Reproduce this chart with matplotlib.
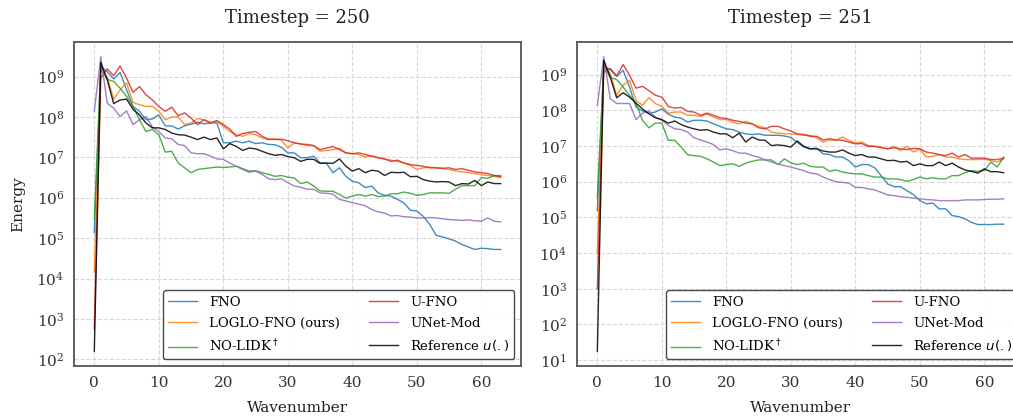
import numpy as np
import matplotlib
matplotlib.use("Agg")
import matplotlib.pyplot as plt

plt.rcParams['font.family'] = 'DejaVu Serif'

wavenumber = np.arange(64)

# log10(energy), timestep 250
fno_250 = [5.14, 9.25, 9.12, 8.94, 9.10, 8.67, 8.26, 8.14, 7.93, 7.95, 8.05, 7.78, 7.78, 7.70, 7.78, 7.82,
           7.87, 7.83, 7.85, 7.85, 7.36, 7.36, 7.40, 7.36, 7.40, 7.34, 7.36, 7.32, 7.31, 7.25, 7.11, 7.11,
           6.99, 6.99, 7.03, 6.86, 6.85, 6.62, 6.74, 6.53, 6.41, 6.37, 6.25, 6.29, 6.12, 6.06, 6.04, 5.96,
           5.87, 5.69, 5.67, 5.54, 5.34, 5.07, 5.03, 4.98, 4.93, 4.84, 4.78, 4.72, 4.75, 4.74, 4.72, 4.72]
loglo_250 = [4.16, 9.15, 9.00, 8.44, 8.67, 8.84, 8.36, 8.30, 8.26, 8.26, 8.14, 7.93, 8.00, 8.00, 7.81, 7.85,
             7.96, 7.93, 7.87, 7.89, 7.77, 7.64, 7.56, 7.52, 7.59, 7.56, 7.48, 7.44, 7.46, 7.42, 7.23, 7.36,
             7.33, 7.29, 7.29, 7.15, 7.17, 7.19, 7.23, 7.11, 7.09, 7.07, 7.01, 7.04, 6.99, 6.96, 6.93, 6.90,
             6.86, 6.80, 6.70, 6.74, 6.76, 6.74, 6.72, 6.70, 6.66, 6.64, 6.62, 6.60, 6.57, 6.55, 6.53, 6.50]
nolidk_250 = [5.46, 9.22, 8.93, 8.88, 8.71, 8.51, 8.26, 7.93, 7.64, 7.69, 7.56, 7.13, 7.15, 6.86, 6.74, 6.62,
              6.70, 6.72, 6.74, 6.76, 6.75, 6.76, 6.78, 6.72, 6.66, 6.67, 6.62, 6.58, 6.53, 6.55, 6.51, 6.49,
              6.35, 6.39, 6.29, 6.17, 6.16, 6.16, 6.08, 5.99, 6.04, 6.08, 6.04, 6.08, 6.03, 6.04, 6.10, 6.10,
              6.14, 6.11, 6.06, 6.08, 6.12, 6.12, 6.12, 6.11, 6.21, 6.30, 6.30, 6.30, 6.50, 6.48, 6.55, 6.55]
ufno_250 = [2.75, 8.96, 9.19, 9.02, 9.26, 8.96, 8.61, 8.75, 8.55, 8.42, 8.26, 8.14, 8.24, 8.03, 8.10, 7.97,
            7.81, 7.93, 7.85, 7.91, 7.81, 7.70, 7.52, 7.59, 7.62, 7.64, 7.52, 7.45, 7.44, 7.45, 7.41, 7.36,
            7.33, 7.32, 7.29, 7.19, 7.23, 7.27, 7.19, 7.11, 7.09, 7.11, 7.07, 7.03, 6.99, 6.96, 6.90, 6.93,
            6.86, 6.82, 6.80, 6.78, 6.74, 6.74, 6.73, 6.74, 6.70, 6.72, 6.68, 6.64, 6.62, 6.60, 6.55, 6.52]
unet_250 = [8.14, 9.49, 8.34, 8.22, 8.01, 8.15, 7.81, 7.93, 8.01, 7.75, 7.64, 7.48, 7.46, 7.32, 7.29, 7.11,
            7.09, 7.09, 7.03, 6.96, 6.95, 6.86, 6.78, 6.70, 6.63, 6.66, 6.58, 6.47, 6.45, 6.47, 6.37, 6.29,
            6.26, 6.21, 6.21, 6.12, 6.11, 6.09, 5.96, 5.92, 5.88, 5.84, 5.80, 5.71, 5.65, 5.62, 5.55, 5.56,
            5.53, 5.52, 5.50, 5.50, 5.51, 5.50, 5.48, 5.46, 5.45, 5.44, 5.45, 5.43, 5.42, 5.50, 5.42, 5.40]
ref_250 = [2.20, 9.35, 8.92, 8.33, 8.42, 8.44, 8.19, 8.05, 7.85, 7.73, 7.73, 7.69, 7.60, 7.56, 7.55, 7.50,
           7.44, 7.50, 7.44, 7.48, 7.21, 7.34, 7.27, 7.17, 7.23, 7.21, 7.15, 7.09, 7.05, 7.07, 7.02, 6.99,
           6.90, 6.95, 6.95, 6.85, 6.86, 6.85, 6.96, 6.78, 6.66, 6.72, 6.62, 6.68, 6.66, 6.55, 6.63, 6.62,
           6.63, 6.52, 6.53, 6.45, 6.41, 6.39, 6.40, 6.39, 6.30, 6.35, 6.34, 6.43, 6.30, 6.39, 6.35, 6.35]

# log10(energy), timestep 251
fno_251 = [5.20, 9.23, 9.14, 8.95, 9.12, 8.65, 8.09, 7.98, 7.92, 7.95, 8.04, 7.89, 7.81, 7.78, 7.67, 7.72,
           7.72, 7.70, 7.62, 7.55, 7.48, 7.46, 7.39, 7.34, 7.32, 7.34, 7.30, 7.30, 7.30, 7.28, 7.24, 7.10,
           6.97, 6.92, 6.94, 6.78, 6.76, 6.69, 6.69, 6.59, 6.41, 6.48, 6.48, 6.39, 6.17, 5.94, 5.86, 5.86,
           5.75, 5.64, 5.47, 5.38, 5.40, 5.24, 5.24, 5.05, 5.02, 4.96, 4.86, 4.80, 4.80, 4.80, 4.81, 4.81]
loglo_251 = [4.00, 9.30, 9.03, 8.42, 8.70, 8.84, 8.28, 8.14, 8.35, 8.19, 8.11, 7.92, 7.95, 7.95, 7.86, 7.86,
             7.83, 7.89, 7.81, 7.74, 7.74, 7.67, 7.62, 7.69, 7.62, 7.55, 7.51, 7.39, 7.36, 7.34, 7.34, 7.32,
             7.30, 7.30, 7.23, 7.11, 7.17, 7.16, 7.25, 7.16, 7.08, 7.11, 7.01, 6.99, 6.97, 6.92, 6.99, 6.87,
             6.99, 6.83, 6.92, 6.69, 6.71, 6.76, 6.69, 6.69, 6.64, 6.62, 6.62, 6.62, 6.63, 6.59, 6.55, 6.64]
nolidk_251 = [5.54, 9.26, 8.92, 8.86, 8.65, 8.42, 8.19, 7.72, 7.51, 7.64, 7.64, 7.16, 7.16, 6.97, 6.76, 6.73,
              6.71, 6.64, 6.55, 6.45, 6.48, 6.50, 6.43, 6.52, 6.57, 6.61, 6.61, 6.61, 6.48, 6.64, 6.53, 6.48,
              6.52, 6.43, 6.41, 6.41, 6.29, 6.33, 6.27, 6.24, 6.22, 6.22, 6.17, 6.13, 6.13, 6.08, 6.08, 6.06,
              6.01, 6.06, 6.13, 6.08, 6.11, 6.08, 6.08, 6.17, 6.17, 6.25, 6.31, 6.29, 6.31, 6.55, 6.41, 6.69]
ufno_251 = [3.00, 9.07, 9.17, 8.96, 9.28, 8.98, 8.62, 8.67, 8.55, 8.42, 8.37, 8.11, 8.06, 8.08, 7.97, 7.95,
            7.86, 7.92, 7.86, 7.79, 7.77, 7.72, 7.69, 7.64, 7.62, 7.51, 7.48, 7.55, 7.55, 7.48, 7.42, 7.34,
            7.32, 7.27, 7.27, 7.17, 7.20, 7.17, 7.16, 7.11, 7.06, 7.07, 6.99, 6.99, 6.95, 6.92, 6.95, 6.92,
            6.90, 6.93, 6.92, 6.83, 6.80, 6.76, 6.73, 6.80, 6.69, 6.76, 6.66, 6.66, 6.66, 6.62, 6.62, 6.66]
unet_251 = [8.14, 9.50, 8.33, 8.19, 8.19, 8.19, 7.74, 7.92, 7.98, 7.81, 7.72, 7.58, 7.48, 7.46, 7.39, 7.23,
            7.17, 7.11, 7.04, 6.89, 6.92, 6.87, 6.80, 6.80, 6.73, 6.69, 6.61, 6.55, 6.50, 6.45, 6.41, 6.36,
            6.31, 6.24, 6.22, 6.13, 6.06, 6.00, 5.98, 5.96, 5.84, 5.84, 5.80, 5.77, 5.70, 5.63, 5.61, 5.58,
            5.56, 5.54, 5.52, 5.50, 5.49, 5.47, 5.47, 5.47, 5.47, 5.49, 5.49, 5.49, 5.50, 5.51, 5.51, 5.52]
ref_251 = [1.25, 9.40, 8.93, 8.35, 8.49, 8.37, 8.20, 8.04, 7.90, 7.79, 7.74, 7.64, 7.70, 7.60, 7.53, 7.48,
           7.44, 7.46, 7.39, 7.34, 7.34, 7.23, 7.36, 7.11, 7.25, 7.17, 7.16, 7.01, 7.03, 7.01, 6.97, 7.14,
           6.99, 6.92, 6.92, 6.86, 6.83, 6.83, 6.89, 6.80, 6.73, 6.76, 6.69, 6.69, 6.64, 6.59, 6.60, 6.55,
           6.57, 6.45, 6.50, 6.45, 6.45, 6.55, 6.45, 6.52, 6.41, 6.33, 6.29, 6.24, 6.36, 6.28, 6.28, 6.25]

labels = ['FNO', 'LOGLO-FNO (ours)', r'NO-LIDK$^\dagger$', 'U-FNO', 'UNet-Mod', r'Reference $u(.)$']
colors = ['tab:blue', 'tab:orange', 'tab:green', 'tab:red', 'tab:purple', 'black']

panels = [
    ('Timestep = 250', [fno_250, loglo_250, nolidk_250, ufno_250, unet_250, ref_250]),
    ('Timestep = 251', [fno_251, loglo_251, nolidk_251, ufno_251, unet_251, ref_251]),
]

fig = plt.figure(figsize=(10.13, 4.17), dpi=100)
W, H = 1013, 417
boxes = [(74, 42, 521, 366), (577, 42, 1024, 366)]

for i, ((title, series), (x0, y0, x1, y1)) in enumerate(zip(panels, boxes)):
    ax = fig.add_axes([x0 / W, 1 - y1 / H, (x1 - x0) / W, (y1 - y0) / H])
    for vals, lab, c in zip(series, labels, colors):
        ax.plot(wavenumber, 10 ** np.array(vals), color=c, lw=1.0, alpha=0.85, label=lab)
    ax.set_yscale('log')
    ax.minorticks_off()
    ax.set_xticks([0, 10, 20, 30, 40, 50, 60])
    ax.grid(True, ls='--', color='#d8d8d8', lw=0.8)
    ax.set_axisbelow(True)
    for s in ax.spines.values():
        s.set_color('#555555')
        s.set_linewidth(1.3)
    ax.tick_params(length=0, pad=7, labelsize=11, colors='#333333')
    ax.set_title(title, fontsize=13, pad=14, color='#222222')
    ax.set_xlabel('Wavenumber', fontsize=11, color='#222222', labelpad=8)
    if i == 0:
        ax.set_ylabel('Energy', fontsize=11, color='#222222', labelpad=8)
    leg = ax.legend(ncol=2, fontsize=9.5, loc='lower right', frameon=True,
                    edgecolor='#333333', framealpha=0.9, handlelength=2.2,
                    handletextpad=0.9, columnspacing=2.2, borderpad=0.4,
                    labelspacing=0.6)
    leg.get_frame().set_linewidth(1.0)

fig.savefig('out.png', dpi=100)
